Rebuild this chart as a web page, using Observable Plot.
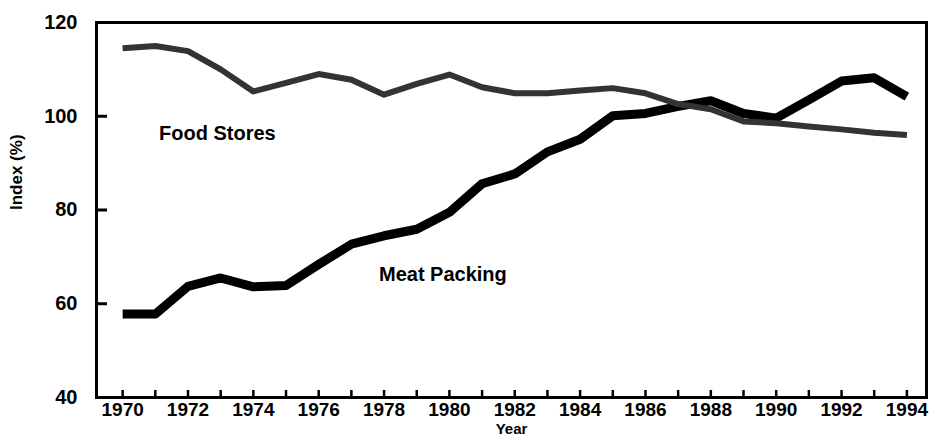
<!DOCTYPE html>
<html>
<head>
<meta charset="utf-8">
<script src="https://cdn.jsdelivr.net/npm/d3@7"></script>
<script src="https://cdn.jsdelivr.net/npm/@observablehq/plot@0.6"></script>
<style>
  html, body { margin: 0; padding: 0; background: #fff; }
  #chart { width: 931px; height: 439px; overflow: hidden; }
</style>
</head>
<body>
<div id="chart"></div>
<script>
const years = [1970,1971,1972,1973,1974,1975,1976,1977,1978,1979,1980,1981,1982,1983,1984,1985,1986,1987,1988,1989,1990,1991,1992,1993,1994];
const meatPacking = [57.8,57.8,63.7,65.5,63.6,63.9,68.4,72.7,74.5,75.9,79.5,85.6,87.7,92.4,95.1,100.1,100.6,102.1,103.3,100.6,99.6,103.5,107.5,108.2,104.2];
const foodStores = [114.5,115.0,113.9,110.0,105.3,107.1,109.0,107.8,104.6,106.9,108.9,106.2,104.9,104.9,105.5,106.0,104.9,102.6,101.5,98.9,98.5,97.8,97.2,96.5,96.0];
const yTicks = [40,60,80,100,120];
const xLabelYears = [1970,1972,1974,1976,1978,1980,1982,1984,1986,1988,1990,1992,1994];
const seriesLabels = [
  {name: "Food Stores", year: 1972.9, value: 96.3},
  {name: "Meat Packing", year: 1979.8, value: 66.2}
];
const axisTitles = {x: "Year", y: "Index (%)"};

const meatRows = years.map((y, i) => ({year: y, value: meatPacking[i]}));
const foodRows = years.map((y, i) => ({year: y, value: foodStores[i]}));

const W = 931, H = 439, mL = 96, mR = 5, mT = 22, mB = 42;
const font = "'Liberation Sans', Arial, Helvetica, sans-serif";

const chart = Plot.plot({
  width: W, height: H,
  marginLeft: mL, marginRight: mR, marginTop: mT, marginBottom: mB,
  style: {fontFamily: font, fontWeight: "bold", color: "#000", background: "#fff"},
  x: {domain: [1969.2, 1994.6], axis: null},
  y: {domain: [40, 120], axis: null},
  marks: [
    Plot.frame({stroke: "#000", strokeWidth: 3}),
    Plot.tickY(yTicks, {y: d => d, stroke: "#000", strokeWidth: 3, insetRight: W - mL - mR - 11}),
    Plot.tickX(years, {x: d => d, stroke: "#000", strokeWidth: 2.5, insetTop: H - mT - mB - 7}),
    Plot.axisY(yTicks, {tickSize: 0, tickPadding: 19, tickFormat: d => String(d), fontSize: 20, fontWeight: "bold", label: null}),
    Plot.axisX(xLabelYears, {tickSize: 0, tickPadding: 5, tickFormat: d => String(d), fontSize: 19, fontWeight: "bold", label: null}),
    Plot.text([axisTitles.y], {frameAnchor: "left", dx: -80, rotate: -90, text: d => d, fontSize: 17, fontWeight: "bold", fill: "#000"}),
    Plot.text([axisTitles.x], {frameAnchor: "bottom", dy: 32, text: d => d, fontSize: 15, fontWeight: "bold", fill: "#000", lineAnchor: "middle"}),
    Plot.line(meatRows, {x: "year", y: "value", stroke: "#000", strokeWidth: 9, strokeLinecap: "butt", strokeLinejoin: "round"}),
    Plot.line(foodRows, {x: "year", y: "value", stroke: "#333", strokeWidth: 6, strokeLinecap: "butt", strokeLinejoin: "round"}),
    Plot.text(seriesLabels, {x: "year", y: "value", text: "name", fontSize: 20, fontWeight: "bold", fill: "#000"})
  ]
});
document.getElementById("chart").appendChild(chart);
</script>
</body>
</html>
